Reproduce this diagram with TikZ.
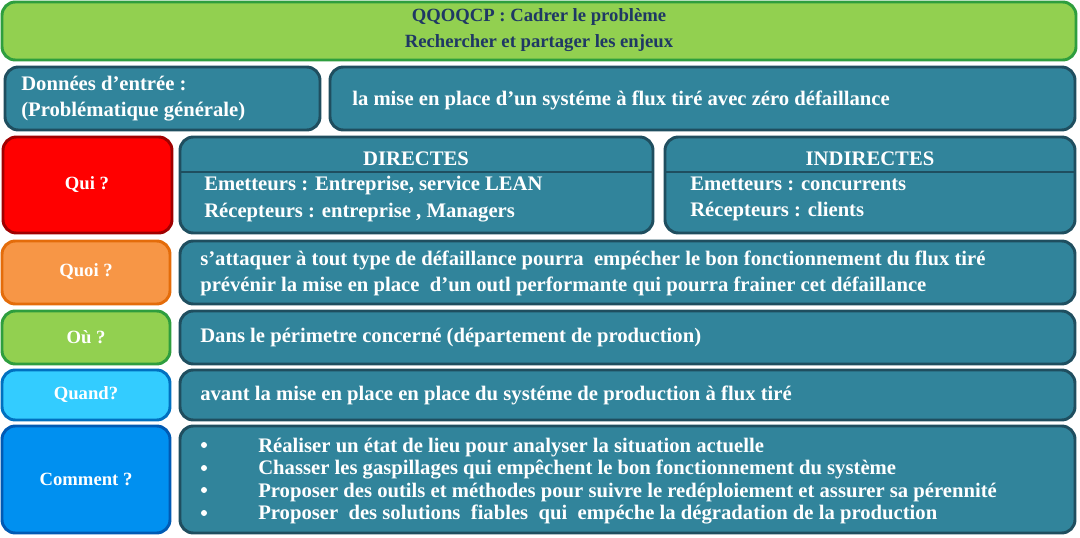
\documentclass[tikz,border=0pt]{standalone}
\usepackage{fontspec}
\setmainfont{Liberation Serif}
\definecolor{tealc}{HTML}{31849B}\definecolor{tealb}{HTML}{1F4E5F}
\definecolor{hgreen}{HTML}{92D050}\definecolor{hgreenb}{HTML}{2E9E3E}
\definecolor{htext}{HTML}{1F3864}
\definecolor{qr}{HTML}{FF0000}\definecolor{qrb}{HTML}{A00000}
\definecolor{qo}{HTML}{F79646}\definecolor{qob}{HTML}{E46C0A}
\definecolor{qb}{HTML}{33CCFF}\definecolor{qbb}{HTML}{0070C0}
\definecolor{qc}{HTML}{0090F0}\definecolor{qcb}{HTML}{005AB4}
\begin{document}
\begin{tikzpicture}[x=0.75pt,y=-0.75pt,
  box/.style={draw=#1,line width=2.2pt,rounded corners=10pt},
  tbox/.style={box=tealb,fill=tealc},
  txt/.style={text=white,font=\bfseries\fontsize{15.5}{19.5}\selectfont,align=left,anchor=west,inner sep=0pt},
  ctxt/.style={text=white,font=\bfseries\fontsize{14}{17}\selectfont,align=center}]
\useasboundingbox (0,0) rectangle (1080,538);
\fill[white] (0,0) rectangle (1080,538);
% header
\draw[box=hgreenb,fill=hgreen] (2,2) rectangle (1076,60);
\node[font=\bfseries\fontsize{14}{19.5}\selectfont,text=htext,align=center] (h) at (539,30) {QQOQCP : Cadrer le problème\\Rechercher et partager les enjeux};
% row 1
\draw[tbox] (5,67) rectangle (320,130);
\node[txt] (de) at (21,99) {Données d'entrée :\\(Problématique générale)};
\draw[tbox] (330,67) rectangle (1075,130);
\node[txt] (pg) at (352,100) {la mise en place d'un systéme à flux tiré avec zéro défaillance};
% qui
\draw[box=qrb,fill=qr] (3,137) rectangle (172,233);
\node[ctxt] (qui) at (87,185) {Qui ?};
\draw[tbox] (180,137) rectangle (653,233);
\draw[tealb,line width=1.5pt] (180,172) -- (653,172);
\node[ctxt,font=\bfseries\fontsize{15.5}{19.5}\selectfont] (dir) at (416,159) {DIRECTES};
\node[txt,font=\bfseries\fontsize{15.5}{20}\selectfont] (dirt) at (204,199) {Emetteurs : Entreprise, service LEAN\\Récepteurs : entreprise , Managers};
\draw[tbox] (665,137) rectangle (1075,233);
\draw[tealb,line width=1.5pt] (665,172) -- (1075,172);
\node[ctxt,font=\bfseries\fontsize{15.5}{19.5}\selectfont] (ind) at (870,159) {INDIRECTES};
\node[txt,font=\bfseries\fontsize{15.5}{20}\selectfont] (indt) at (690,199) {Emetteurs : concurrents\\Récepteurs : clients};
% quoi
\draw[box=qob,fill=qo] (2,241) rectangle (170,304);
\node[ctxt] (quoi) at (86,272) {Quoi ?};
\draw[tbox] (180,241) rectangle (1075,304);
\node[txt] (quoit) at (200,273) {s'attaquer à tout type de défaillance pourra~ empécher le bon fonctionnement du flux tiré\\prévénir la mise en place~ d'un outl performante qui pourra frainer cet défaillance};
% ou
\draw[box=hgreenb,fill=hgreen] (2,311) rectangle (170,364);
\node[ctxt] (ou) at (86,337) {Où ?};
\draw[tbox] (180,311) rectangle (1075,364);
\node[txt] (out) at (200,338) {Dans le périmetre concerné (département de production)};
% quand
\draw[box=qbb,fill=qb] (2,370) rectangle (170,420);
\node[ctxt] (quand) at (86,395) {Quand?};
\draw[tbox] (180,370) rectangle (1075,420);
\node[txt] (quandt) at (200,395) {avant la mise en place en place du systéme de production à flux tiré};
% comment
\draw[box=qcb,fill=qc] (2,426) rectangle (170,533);
\node[ctxt] (com) at (86,479) {Comment ?};
\draw[tbox] (180,426) rectangle (1075,533);
\node[txt,font=\bfseries\fontsize{15.5}{16.9}\selectfont] (comt) at (258,481) {Réaliser un état de lieu pour analyser la situation actuelle\\Chasser les gaspillages qui empêchent le bon fonctionnement du système\\Proposer des outils et méthodes pour suivre le redéploiement et assurer sa pérennité\\Proposer~ des solutions~ fiables~ qui~ empéche la dégradation de la production};
\foreach \y in {445,468,490,513} \fill[white] (204,\y) circle (3);
\end{tikzpicture}
\end{document}
